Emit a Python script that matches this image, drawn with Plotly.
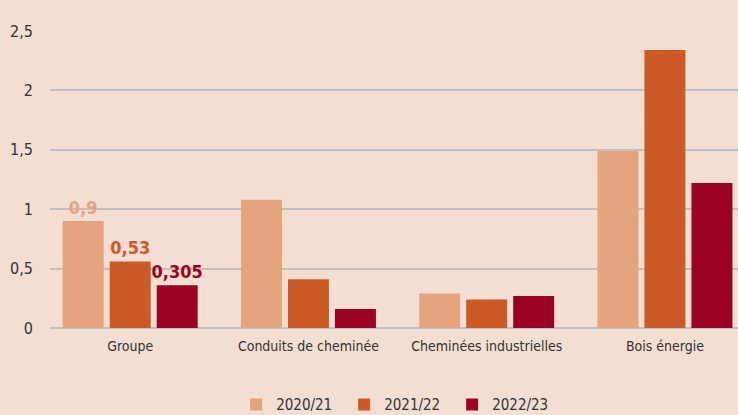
import plotly.graph_objects as go

categories = ["Groupe", "Conduits de cheminée", "Cheminées industrielles", "Bois énergie"]
series_names = ["2020/21", "2021/22", "2022/23"]
values_2020 = [0.9, 1.08, 0.29, 1.49]
values_2021 = [0.56, 0.41, 0.24, 2.34]
values_2022 = [0.36, 0.16, 0.27, 1.22]
labels_2020 = ["0,9", "", "", ""]
labels_2021 = ["0,53", "", "", ""]
labels_2022 = ["0,305", "", "", ""]
colors = ["#E3A47E", "#CC5A27", "#9B0322"]
ytick_vals = [0, 0.5, 1, 1.5, 2, 2.5]
ytick_text = ["0", "0,5", "1", "1,5", "2", "2,5"]

FONT = "DejaVu Sans Condensed, DejaVu Sans, sans-serif"

fig = go.Figure()
for name, vals, labs, col in zip(series_names, [values_2020, values_2021, values_2022],
                                 [labels_2020, labels_2021, labels_2022], colors):
    fig.add_trace(go.Bar(
        x=categories, y=vals, name=name, marker_color=col, marker_line_width=0,
        text=labs, textposition="outside", cliponaxis=False, constraintext="none",
        textfont=dict(color=col, size=18, family=FONT, weight="bold"),
        hoverinfo="skip",
    ))

fig.update_layout(
    width=738, height=415,
    margin=dict(l=50, r=0, t=31, b=87),
    paper_bgcolor="#F3DED3", plot_bgcolor="#F3DED3",
    barmode="group", bargap=0.209, bargroupgap=0.128,
    font=dict(family=FONT, color="#333333", size=14),
    showlegend=True,
    legend=dict(orientation="h", x=0.506, xanchor="center", yref="container", y=0.025,
                yanchor="middle", font=dict(size=15, color="#333333"), itemwidth=30,
                entrywidth=63, entrywidthmode="pixels", traceorder="normal"),
    xaxis=dict(range=[-0.45, 3.41], showgrid=False, showline=False, ticks="",
               ticklabelstandoff=8, tickfont=dict(size=14, color="#333333")),
    yaxis=dict(range=[0, 2.5], tickvals=ytick_vals, ticktext=ytick_text,
               showgrid=True, gridcolor="#C4BFBD", gridwidth=2,
               zeroline=True, zerolinecolor="#C4BFBD", zerolinewidth=2,
               ticks="", ticklabelstandoff=16, tickfont=dict(size=16, color="#333333")),
)

fig.write_html("out.html", config={"displayModeBar": False},
               post_script="document.body.style.margin='0';document.body.style.padding='0';document.body.style.overflow='hidden';")
